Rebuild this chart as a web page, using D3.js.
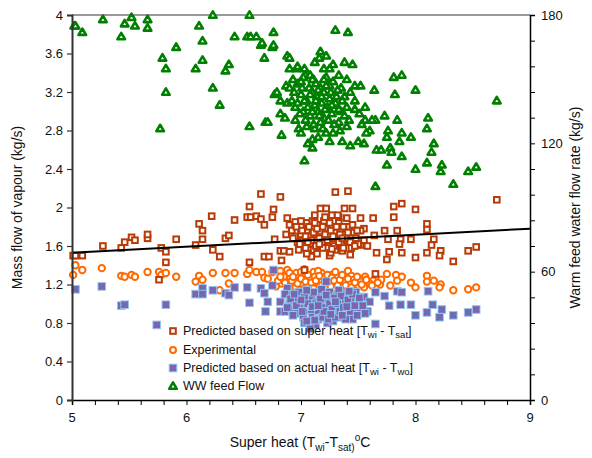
<!DOCTYPE html>
<html>
<head>
<meta charset="utf-8">
<script src="https://cdn.jsdelivr.net/npm/d3@7"></script>
<style>
  body { margin: 0; background: #fff; }
  svg text { font-family: "Liberation Sans", Arial, sans-serif; }
</style>
</head>
<body>
<div id="chart"></div>
<script>
// [super heat, mass flow]
const predicted_super = [
  [5.01,1.50],[5.03,1.50],[5.09,1.50],[5.27,1.60],[5.43,1.58],[5.46,1.64],[5.52,1.69],[5.55,1.66],
  [5.66,1.68],[5.66,1.72],[5.78,1.58],[5.82,1.54],[5.82,1.43],[5.76,1.25],[5.91,1.67],[6.08,1.61],
  [6.11,1.83],[6.14,1.76],[6.14,1.67],[6.22,1.91],[6.23,1.56],[6.29,1.49],[6.34,1.68],[6.37,1.71],
  [6.42,1.87],[6.53,1.90],[6.55,2.01],[6.56,1.90],[6.61,1.91],[6.65,2.14],[6.65,1.88],[6.68,1.82],
  [6.75,1.90],[6.76,1.98],[6.82,2.11],[6.55,1.43],[6.68,1.49],[6.72,1.49],[6.83,1.45],[6.88,1.89],
  [6.87,1.72],[6.90,1.82],[6.77,1.67],[6.82,1.55],[6.85,1.55],[6.95,1.85],[6.90,1.54],
  [7.30,2.16],[7.41,2.17],[7.17,1.99],[7.22,1.99],[7.12,1.92],[7.38,1.99],[7.45,1.99],[7.27,1.92],
  [7.33,1.90],[7.40,1.89],[7.52,1.89],[7.63,1.89],[7.81,2.01],[7.88,2.04],[7.81,1.90],[8.00,1.98],
  [8.71,2.08],[8.10,1.83],[8.10,1.77],[8.16,1.67],[8.14,1.61],[8.10,1.53],[8.22,1.55],[8.21,1.50],
  [8.33,1.44],[8.46,1.55],[8.53,1.59],[8.00,1.48],[7.88,1.53],[7.96,1.67],[7.87,1.67],[7.84,1.76],
  [7.73,1.76],[7.76,1.67],[7.86,1.62],[7.75,1.46],[7.77,1.54],[7.66,1.53],[7.64,1.71],[7.55,1.78],
  [7.52,1.61],[7.43,1.51],[7.36,1.55],[7.25,1.50],[7.09,1.49],[7.65,1.31],[7.03,1.35],
  [6.92,1.76],[6.95,1.70],[6.97,1.64],[7.00,1.80],[7.00,1.72],[7.02,1.66],[7.03,1.60],[7.05,1.84],
  [7.06,1.76],[7.08,1.70],[7.08,1.62],[7.10,1.78],[7.11,1.56],[7.12,1.72],[7.13,1.66],[7.15,1.82],
  [7.15,1.60],[7.17,1.75],[7.18,1.69],[7.20,1.64],[7.20,1.86],[7.22,1.78],[7.23,1.58],[7.24,1.72],
  [7.25,1.66],[7.27,1.80],[7.28,1.62],[7.30,1.74],[7.30,1.56],[7.32,1.68],[7.33,1.84],[7.35,1.77],
  [7.36,1.62],[7.38,1.72],[7.40,1.66],[7.42,1.80],[7.44,1.58],[7.46,1.74],[7.48,1.68],[7.50,1.62],
  [7.52,1.76],[7.55,1.66],[7.58,1.60],[6.98,1.56],[7.05,1.52],[7.14,1.52],[7.26,1.53],
  [6.93,1.68],[6.96,1.80],[6.99,1.62],[7.01,1.76],[7.04,1.70],[7.04,1.58],[7.07,1.80],[7.09,1.66],
  [7.11,1.74],[7.13,1.60],[7.14,1.78],[7.16,1.68],[7.19,1.80],[7.19,1.58],[7.21,1.72],[7.23,1.66],
  [7.25,1.84],[7.26,1.76],[7.28,1.70],[7.29,1.60],[7.31,1.80],[7.33,1.64],[7.34,1.72],[7.37,1.80],
  [7.37,1.58],[7.39,1.68],[7.41,1.74],[7.43,1.64],[7.45,1.82],[7.47,1.60],[7.49,1.76],[7.21,1.90],
  [7.10,1.86],[7.32,1.92],[7.00,1.86],[7.06,1.64],[7.16,1.62],[7.27,1.57],[7.36,1.68],[7.12,1.84]
];

const experimental = [
  [5.03,1.40],[5.01,1.30],[5.09,1.35],[5.26,1.37],[5.43,1.29],[5.46,1.28],[5.52,1.30],[5.55,1.28],
  [5.66,1.33],[5.76,1.33],[5.78,1.30],[5.82,1.32],[5.91,1.28],[6.08,1.23],[6.11,1.29],[6.14,1.25],
  [6.23,1.32],[6.29,1.14],[6.34,1.32],[6.37,1.21],[6.42,1.32],[6.53,1.31],[6.55,1.35],[6.61,1.33],
  [6.66,1.33],[6.68,1.27],[6.71,1.26],[6.75,1.33],[6.82,1.34],[6.88,1.35],[6.90,1.28],[6.83,1.21],
  [7.03,1.36],[6.96,1.32],[7.11,1.33],[7.18,1.32],[7.27,1.30],[7.41,1.34],[7.44,1.29],[7.56,1.28],
  [7.63,1.24],[7.75,1.31],[7.83,1.30],[7.88,1.28],[7.84,1.24],[7.69,1.20],[7.78,1.19],[7.96,1.22],
  [8.00,1.17],[8.10,1.29],[8.10,1.23],[8.16,1.24],[8.22,1.20],[8.21,1.17],[8.33,1.14],[8.46,1.15],
  [8.53,1.17],
  [6.78,1.18],[6.80,1.24],[6.85,1.28],[6.88,1.20],[6.92,1.24],[6.95,1.17],[6.98,1.27],[7.00,1.21],
  [7.02,1.30],[7.05,1.18],[7.07,1.25],[7.10,1.20],[7.12,1.28],[7.15,1.16],[7.17,1.23],[7.20,1.27],
  [7.22,1.19],[7.25,1.24],[7.28,1.16],[7.30,1.21],[7.32,1.27],[7.35,1.18],[7.38,1.23],[7.40,1.16],
  [7.43,1.21],[7.46,1.25],[7.50,1.19],[7.52,1.23],[7.55,1.17],[7.60,1.21],[7.65,1.16],[7.70,1.25],
  [7.00,1.33],[7.15,1.34],[7.30,1.33],[6.90,1.32],
  [6.82,1.28],[6.86,1.22],[6.90,1.16],[6.93,1.28],[6.97,1.21],[7.00,1.26],[7.03,1.15],[7.04,1.23],
  [7.06,1.30],[7.09,1.22],[7.11,1.16],[7.13,1.24],[7.16,1.29],[7.18,1.19],[7.21,1.22],[7.23,1.30],
  [7.26,1.18],[7.27,1.27],[7.29,1.24],[7.32,1.19],[7.34,1.25],[7.36,1.30],[7.39,1.19],[7.41,1.26],
  [7.44,1.17],[7.47,1.22],[7.49,1.28],[7.53,1.20],[7.57,1.25],[7.62,1.19],[7.67,1.22]
];

const predicted_actual = [
  [5.03,1.15],[5.26,1.18],[5.43,0.98],[5.46,0.99],[5.82,0.99],[5.74,0.78],[6.08,1.10],[6.14,1.16],
  [6.14,1.10],[6.23,1.14],[6.34,1.11],[6.37,1.09],[6.42,1.17],[6.53,1.17],[6.55,1.01],[6.65,1.16],
  [6.68,1.11],[6.69,0.92],[6.76,1.35],[6.75,1.19],[6.71,1.02],[6.82,1.02],[6.82,0.92],[6.86,0.92],
  [6.88,1.16],[6.90,1.09],
  [7.22,1.23],[7.65,1.12],[7.73,1.08],[7.84,1.13],[7.88,1.12],[8.11,1.13],[7.96,0.99],[7.87,0.99],
  [7.77,0.98],[8.15,0.99],[8.10,0.91],[8.00,0.88],[8.23,0.94],[8.21,0.86],[8.33,0.88],[8.46,0.91],
  [8.53,0.94],[7.37,0.88],[7.65,0.79],
  [6.90,1.00],[6.92,0.95],[6.95,1.06],[6.97,0.90],[7.00,1.10],[7.00,0.98],[7.02,0.86],[7.04,1.03],
  [7.05,0.93],[7.07,1.12],[7.08,0.99],[7.10,0.88],[7.10,1.06],[7.12,0.95],[7.14,1.02],[7.15,0.84],
  [7.16,1.10],[7.18,0.92],[7.20,0.99],[7.20,1.06],[7.22,0.88],[7.24,0.96],[7.25,1.12],[7.26,1.03],
  [7.28,0.90],[7.30,0.98],[7.31,1.08],[7.33,0.86],[7.35,0.94],[7.36,1.02],[7.38,1.10],[7.40,0.90],
  [7.42,0.98],[7.44,1.05],[7.46,0.93],[7.48,1.12],[7.50,1.00],[7.52,0.95],[7.55,1.07],[7.58,0.92],
  [7.60,1.02],[7.03,0.80],[7.13,0.78],[7.23,0.80],[7.08,0.74],[6.86,1.10],[6.88,0.96],[7.18,1.15],
  [7.33,1.14],[7.45,0.84],[7.28,0.82],
  [6.91,1.05],[6.93,0.88],[6.96,0.98],[6.98,1.12],[7.01,0.92],[7.03,1.07],[7.05,0.82],[7.06,1.00],
  [7.09,0.94],[7.11,1.12],[7.12,0.83],[7.13,1.00],[7.15,0.93],[7.17,1.05],[7.19,0.86],[7.21,0.96],
  [7.22,1.09],[7.24,0.84],[7.25,1.00],[7.27,0.94],[7.29,1.06],[7.30,0.86],[7.32,1.00],[7.34,0.92],
  [7.35,1.08],[7.37,0.96],[7.39,0.84],[7.41,1.04],[7.43,0.92],[7.45,1.10],[7.47,0.98],[7.49,0.88],
  [7.51,1.06],[7.54,0.98],[7.56,0.90],[7.10,0.97],[7.20,0.92],[7.30,1.02],[7.40,0.97],[7.15,0.98],
  [7.26,0.89],[7.36,0.88],[7.00,1.04],[6.94,1.10],[7.05,1.14],[7.42,1.13]
];

// [super heat, warm feed water flow]
const ww_flow = [
  [5.02,175],[5.03,175],[5.09,172],[5.27,178],[5.43,170],[5.46,176],[5.52,179],[5.55,175],[5.66,174],
  [5.66,178],[5.79,160],[5.82,155],[5.82,144],[5.77,127],[5.91,165],[6.11,175],[6.14,168],[6.14,159],
  [6.08,155],[6.23,180],[6.23,146],[6.29,138],[6.37,157],[6.34,154],[6.42,170],[6.53,170],[6.56,170],
  [6.61,170],[6.55,180],[6.55,128],[6.65,166],[6.66,167],[6.75,165],[6.76,166],[6.76,172],[6.68,160],
  [6.69,130],[6.71,130],[6.83,124],[6.77,143],[6.79,144],[6.82,140],[6.82,134],[6.86,132],[6.87,147],
  [6.88,161],[6.88,139],[6.90,155],[6.96,155],[6.97,148],
  [7.30,173],[7.41,172],[7.17,163],[7.22,161],[7.12,158],[7.16,160],[7.28,157],[7.38,158],[7.45,157],
  [7.25,155],[6.97,156],[6.90,160],[7.04,152],[7.02,151],[7.11,150],[7.33,152],[7.40,150],[7.22,151],
  [6.98,148],[7.47,147],[7.52,147],[7.35,146],[7.64,145],[7.81,151],[7.88,152],[8.00,145],[7.82,143],
  [8.71,140],[7.10,144],[7.17,146],[7.25,147],[7.43,144],[7.47,140],[7.38,142],[7.56,137],[7.47,136],
  [7.51,134],[7.40,137],[7.73,133],[7.84,131],[7.65,131],[7.62,131],[7.56,131],[7.42,131],[7.53,129],
  [7.60,126],[7.57,125],[7.76,126],[7.88,125],[7.96,123],[8.11,132],[8.10,127],[7.75,123],[7.86,121],
  [7.78,118],[7.79,116],[7.88,114],[7.66,117],[7.70,117],[7.55,120],[7.50,121],[7.43,119],[7.36,121],
  [7.25,121],[7.10,122],[7.22,125],[7.28,125],[7.34,126],[7.03,112],[7.75,110],[8.00,108],[8.10,111],
  [8.14,116],[8.16,120],[8.23,110],[8.22,107],[8.46,107],[8.53,109],[7.65,100],[8.33,101],
  [6.92,140],[6.95,137],[7.00,143],[7.02,135],[7.05,140],[7.07,146],[7.08,133],[7.12,138],[7.14,142],
  [7.15,135],[7.18,139],[7.20,144],[7.20,132],[7.23,137],[7.25,141],[7.27,134],[7.30,139],[7.32,145],
  [7.33,130],[6.95,131],[6.98,127],[7.05,128],[7.12,127],[7.17,130],[6.90,146],[6.93,150],[7.00,149],
  [7.08,152],[7.13,148],[7.20,150],[7.28,149],[7.35,135],[7.40,128],[7.15,123],[7.06,120],
  [6.94,144],[6.97,139],[6.99,134],[7.01,146],[7.03,140],[7.04,131],[7.06,137],[7.08,143],[7.10,135],
  [7.11,129],[7.13,140],[7.15,145],[7.16,133],[7.18,142],[7.19,127],[7.21,136],[7.22,147],[7.24,131],
  [7.26,144],[7.27,138],[7.29,129],[7.31,142],[7.33,136],[7.36,140],[7.38,133],[7.10,150],[7.03,155],
  [7.20,155],[7.00,125],[7.10,118]
];

const trend_line = [[5, 1.53], [9, 1.78]];

const x_ticks = [5, 6, 7, 8, 9];
const y_left_ticks = [0, 0.4, 0.8, 1.2, 1.6, 2, 2.4, 2.8, 3.2, 3.6, 4];
const y_right_ticks = [0, 60, 120, 180];

const colors = {
  brown: "#b83a06",
  orange: "#ff6a00",
  blue: "#4a7cc4",
  blue_edge: "#9cc3ea",
  purple: "#8a5fa8",
  green: "#008000"
};

let margin = { left: 72, right: 62, top: 15, bottom: 58 };
let width = 592 - margin.left - margin.right;
let height = 458 - margin.top - margin.bottom;

let svg = d3.select("#chart").append("svg")
  .attr("width", 592)
  .attr("height", 458);
let g = svg.append("g")
  .attr("transform", "translate(" + margin.left + "," + margin.top + ")");

let x = d3.scaleLinear().domain([5, 9]).range([0, width]);
let y = d3.scaleLinear().domain([0, 4]).range([height, 0]);
let y2 = d3.scaleLinear().domain([0, 180]).range([height, 0]);

// top frame line
g.append("line")
  .attr("x1", 0).attr("x2", width).attr("y1", 0).attr("y2", 0)
  .attr("stroke", "#999").attr("stroke-width", 2);

let sq = 5.6;

g.append("g").selectAll(null).data(experimental).enter().append("circle")
  .attr("cx", d => x(d[0]))
  .attr("cy", d => y(d[1]))
  .attr("r", 3.2)
  .attr("fill", "#fff")
  .attr("stroke", colors.orange)
  .attr("stroke-width", 2);

function blue_marker(sel, data, xf, yf) {
  let m = sel.selectAll(null).data(data).enter().append("g")
    .attr("transform", d => "translate(" + xf(d) + "," + yf(d) + ")");
  m.append("rect")
    .attr("x", -3.8).attr("y", -3.8).attr("width", 7.6).attr("height", 7.6)
    .attr("fill", colors.blue)
    .attr("stroke", colors.blue_edge)
    .attr("stroke-width", 1);
  m.append("path")
    .attr("d", "M-2.8,-2.8L2.8,2.8M-2.8,2.8L2.8,-2.8")
    .attr("stroke", colors.purple)
    .attr("stroke-width", 2);
}
blue_marker(g.append("g"), predicted_actual, d => x(d[0]), d => y(d[1]));

g.append("g").selectAll(null).data(predicted_super).enter().append("rect")
  .attr("x", d => x(d[0]) - sq / 2)
  .attr("y", d => y(d[1]) - sq / 2)
  .attr("width", sq).attr("height", sq)
  .attr("fill", "#fff")
  .attr("stroke", colors.brown)
  .attr("stroke-width", 2);

let tri = "M0,-3.6L3.8,2.8L-3.8,2.8Z";
g.append("g").selectAll(null).data(ww_flow).enter().append("path")
  .attr("d", tri)
  .attr("transform", d => "translate(" + x(d[0]) + "," + y2(d[1]) + ")")
  .attr("fill", "#fff")
  .attr("stroke", colors.green)
  .attr("stroke-width", 2.6)
  .attr("stroke-linejoin", "round");

g.append("path")
  .datum(trend_line)
  .attr("d", d3.line().x(d => x(d[0])).y(d => y(d[1])))
  .attr("stroke", "#000")
  .attr("stroke-width", 2)
  .attr("fill", "none");

// axes
let x_axis = g.append("g")
  .attr("transform", "translate(0," + height + ")")
  .call(d3.axisBottom(x).tickValues(d3.range(5, 9.01, 0.2)).tickSize(5).tickFormat(""));
x_axis.select(".domain").attr("stroke", "#000").attr("stroke-width", 1.5);
x_axis.append("g").selectAll("text").data(x_ticks).enter().append("text")
  .attr("x", d => x(d)).attr("y", 22)
  .attr("text-anchor", "middle")
  .attr("font-size", 13)
  .attr("fill", "#111")
  .text(d => d);

let y_axis = g.append("g")
  .call(d3.axisLeft(y).tickValues(y_left_ticks).tickSize(5)
    .tickFormat(d => d3.format("~g")(+d.toFixed(1))));
y_axis.select(".domain").attr("stroke", "#333").attr("stroke-width", 2);
y_axis.selectAll(".tick line").attr("stroke", "#333").attr("stroke-width", 1.2);
y_axis.selectAll("text").attr("font-size", 13).attr("fill", "#111")
  .attr("x", -9).attr("font-family", "Liberation Sans, Arial, sans-serif");

let y2_axis = g.append("g")
  .attr("transform", "translate(" + width + ",0)")
  .call(d3.axisRight(y2).tickValues(d3.range(0, 181, 12)).tickSize(5).tickFormat(""));
y2_axis.select(".domain").attr("stroke", "#000").attr("stroke-width", 1.5);
y2_axis.append("g").selectAll("text").data(y_right_ticks).enter().append("text")
  .attr("x", 11).attr("y", d => y2(d)).attr("dy", "0.35em")
  .attr("font-size", 13)
  .attr("fill", "#111")
  .text(d => d);

// axis titles
let xt = svg.append("text")
  .attr("x", 300).attr("y", 447)
  .attr("text-anchor", "middle")
  .attr("font-size", 14)
  .attr("fill", "#111");
xt.append("tspan").text("Super heat (T");
xt.append("tspan").attr("font-size", 10).attr("dy", 4).text("wi");
xt.append("tspan").attr("dy", -4).text("-T");
xt.append("tspan").attr("font-size", 10).attr("dy", 4).text("sat)");
xt.append("tspan").attr("font-size", 10).attr("dy", -10).text("o");
xt.append("tspan").attr("dy", 6).text("C");

svg.append("text")
  .attr("transform", "translate(22," + (margin.top + height / 2) + ") rotate(-90)")
  .attr("text-anchor", "middle")
  .attr("font-size", 14)
  .attr("fill", "#111")
  .text("Mass flow of vapour (kg/s)");

svg.append("text")
  .attr("transform", "translate(580," + (margin.top + height / 2) + ") rotate(-90)")
  .attr("text-anchor", "middle")
  .attr("font-size", 14)
  .attr("fill", "#111")
  .text("Warm feed water flow rate (kg/s)");

// legend
let legend = svg.append("g").attr("transform", "translate(173,0)");
let rows = [331, 350, 368, 386];
legend.append("rect")
  .attr("x", -sq / 2).attr("y", rows[0] - sq / 2).attr("width", sq).attr("height", sq)
  .attr("fill", "#fff").attr("stroke", colors.brown).attr("stroke-width", 2);
legend.append("circle")
  .attr("cx", 0).attr("cy", rows[1]).attr("r", 3)
  .attr("fill", "#fff").attr("stroke", colors.orange).attr("stroke-width", 2);
blue_marker(legend.append("g"), [0], () => 0, () => rows[2]);
legend.append("path")
  .attr("d", tri)
  .attr("transform", "translate(0," + rows[3] + ")")
  .attr("fill", "#fff").attr("stroke", colors.green).attr("stroke-width", 2.6)
  .attr("stroke-linejoin", "round");

function legend_text(yy, parts) {
  let t = legend.append("text")
    .attr("x", 10).attr("y", yy).attr("dy", "0.35em")
    .attr("font-size", 12.5).attr("fill", "#111");
  parts.forEach(p => {
    let s = t.append("tspan").text(p[0]);
    if (p[1] === "sub") s.attr("font-size", 9.5).attr("dy", 3);
    if (p[1] === "up") s.attr("dy", -3);
  });
}
legend_text(rows[0], [["Predicted based on super heat [T"], ["wi", "sub"], [" - T", "up"], ["sat", "sub"], ["]", "up"]]);
legend_text(rows[1], [["Experimental"]]);
legend_text(rows[2], [["Predicted based on actual heat [T"], ["wi", "sub"], [" - T", "up"], ["wo", "sub"], ["]", "up"]]);
legend_text(rows[3], [["WW feed Flow"]]);
</script>
</body>
</html>
